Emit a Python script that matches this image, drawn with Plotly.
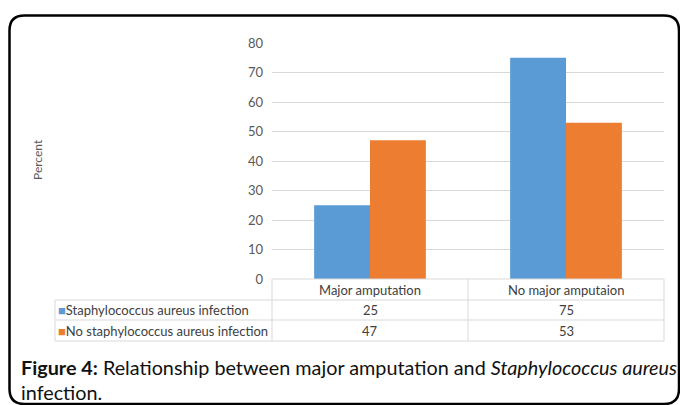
import plotly.graph_objects as go

categories = ["Major amputation", "No major amputaion"]
series_names = ["Staphylococcus aureus infection", "No staphylococcus aureus infection"]
staph_values = [25, 75]
no_staph_values = [47, 53]
series_colors = ["#5B9BD5", "#ED7D31"]
y_ticks = [0, 10, 20, 30, 40, 50, 60, 70, 80]

W, H = 680, 405
L, R, T, B = 272, 16, 43, 126
PW, PH = W - L - R, H - T - B

def px(x):
    return (x - L) / PW

def py(y):
    return (H - B - y) / PH

FONT = "Lato, 'Open Sans', sans-serif"
fig = go.Figure()
for name, vals, col in zip(series_names, [staph_values, no_staph_values], series_colors):
    fig.add_trace(go.Bar(x=categories, y=vals, name=name, marker=dict(color=col, line=dict(width=0))))

shapes = []
grid = "#D9D9D9"
rows_y = [279, 300, 320, 341]
def hline(x0, x1, y):
    shapes.append(dict(type="line", xref="paper", yref="paper", x0=px(x0), x1=px(x1), y0=py(y), y1=py(y), line=dict(color=grid, width=1)))
def vline(x, y0, y1):
    shapes.append(dict(type="line", xref="paper", yref="paper", x0=px(x), x1=px(x), y0=py(y0), y1=py(y1), line=dict(color=grid, width=1)))
hline(272, 664, 279)
hline(55, 664, 300)
hline(55, 664, 320)
hline(55, 664, 341)
vline(55, 300, 341)
vline(272, 279, 341)
vline(468, 279, 341)
vline(664, 279, 341)

x0, x1, y0, y1, r = 9.5, 679, 15.5, 404, 15
path = (f"M {px(x0)},{py(y0+r)} Q {px(x0)},{py(y0)} {px(x0+r)},{py(y0)} "
        f"L {px(x1-r)},{py(y0)} Q {px(x1)},{py(y0)} {px(x1)},{py(y0+r)} "
        f"L {px(x1)},{py(y1-r)} Q {px(x1)},{py(y1)} {px(x1-r)},{py(y1)} "
        f"L {px(x0+r)},{py(y1)} Q {px(x0)},{py(y1)} {px(x0)},{py(y1-r)} Z")
shapes.append(dict(type="path", xref="paper", yref="paper", path=path, line=dict(color="black", width=2.5)))

ann = []
tc = "#404040"
cell_x = [(272 + 468) / 2, (468 + 664) / 2]
for cx, cat in zip(cell_x, categories):
    ann.append(dict(x=px(cx), y=py(289.5), xref="paper", yref="paper", text=cat, showarrow=False,
                    font=dict(family=FONT, size=13, color=tc), xanchor="center", yanchor="middle"))
for ri, (name, vals, col) in enumerate(zip(series_names, [staph_values, no_staph_values], series_colors)):
    yc = (rows_y[ri + 1] + rows_y[ri + 2]) / 2
    ann.append(dict(x=px(56), y=py(yc), xref="paper", yref="paper",
                    text=f"<span style='color:{col}'>■</span>{name}", showarrow=False,
                    font=dict(family=FONT, size=13, color=tc), xanchor="left", yanchor="middle"))
    for cx, v in zip(cell_x, vals):
        ann.append(dict(x=px(cx), y=py(yc), xref="paper", yref="paper", text=str(v), showarrow=False,
                        font=dict(family=FONT, size=13, color=tc), xanchor="center", yanchor="middle"))

ann.append(dict(x=px(37), y=py(160), xref="paper", yref="paper", text="Percent", textangle=-90, showarrow=False,
                font=dict(family=FONT, size=12, color="#595959"), xanchor="center", yanchor="middle"))
ann.append(dict(x=px(19), y=py(367), xref="paper", yref="paper",
                text="<b>Figure 4:</b> Relationship between major amputation and <i>Staphylococcus aureus</i>",
                showarrow=False, font=dict(family=FONT, size=19.8, color="#111111"), xanchor="left", yanchor="middle"))
ann.append(dict(x=px(19), y=py(392), xref="paper", yref="paper", text="infection.",
                showarrow=False, font=dict(family=FONT, size=19.8, color="#111111"), xanchor="left", yanchor="middle"))

fig.update_layout(
    width=W, height=H, margin=dict(l=L, r=R, t=T, b=B, autoexpand=False),
    paper_bgcolor="white", plot_bgcolor="white",
    barmode="group", bargap=0.43, bargroupgap=0, showlegend=False,
    xaxis=dict(showticklabels=False, showgrid=False, zeroline=False, showline=False, ticks=""),
    yaxis=dict(range=[0, 80], tickvals=y_ticks, showgrid=True, gridcolor=grid, gridwidth=1,
               zeroline=False, showline=False, ticks="", ticklabelstandoff=8,
               tickfont=dict(family=FONT, size=13, color="#595959")),
    shapes=shapes, annotations=ann,
)
fig.write_html("out.html", config={"displayModeBar": False},
               post_script="document.body.style.margin='0';document.body.style.overflow='hidden';")
